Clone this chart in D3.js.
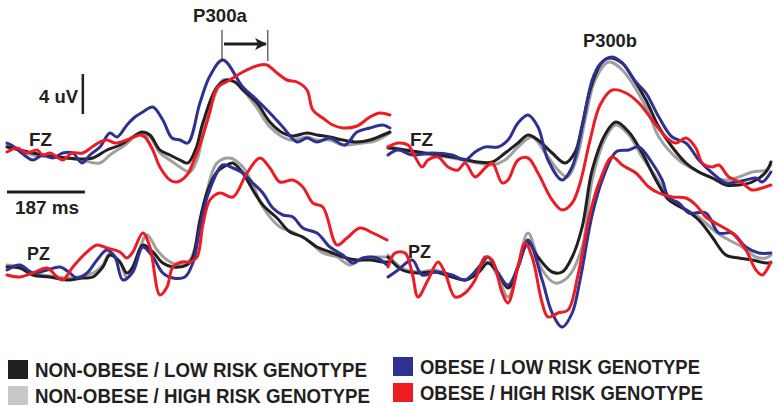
<!DOCTYPE html>
<html><head><meta charset="utf-8">
<script src="https://cdn.jsdelivr.net/npm/d3@7"></script>
<style>body{margin:0;background:#fff}svg{display:block}text{font-family:"Liberation Sans",Arial,sans-serif;font-weight:bold;fill:#231f20}</style>
</head><body>
<script>
// ---- DATA: [time ms, amplitude uV] ----
const groups = ["NON-OBESE / LOW RISK GENOTYPE","NON-OBESE / HIGH RISK GENOTYPE","OBESE / LOW RISK GENOTYPE","OBESE / HIGH RISK GENOTYPE"];
const groupColors = ["#231f20","#a0a0a0","#2e3192","#ed1c24"];
const legendColors = ["#231f20","#c8c8c8","#2e3192","#ed1c24"];
const panelLabels = ["FZ","PZ","FZ","PZ"];
const componentLabels = ["P300a","P300b"];
const scaleBarUv = 4, scaleBarMs = 187;
const p300aLatencies = [516, 626];

// P300a (left) FZ
const aFzBlack = [[0,0.3],[31,0],[62,-0.3],[103,-0.6],[144,-0.8],[175,-0.9],[206,-0.8],[240,0],[271,0.5],[302,1.3],[324,1.8],[343,1.5],[367,0],[391,-0.5],[415,-1.0],[434,-1.3],[454,0.2],[470,2.7],[504,6.3],[528,7.0],[547,6.8],[566,6.0],[600,4.7],[631,2.8],[662,1.7],[686,1.4],[720,1.7],[744,1.5],[775,1.3],[806,1.0],[840,0.8],[871,1.0],[902,1.5],[919,1.8]];
const aFzGray = [[0,0.5],[31,0],[62,-0.5],[103,-0.7],[144,-0.8],[175,-1.0],[223,-1.3],[247,-0.5],[283,0.5],[319,1.7],[343,1.3],[367,-0.3],[391,-1.0],[415,-1.7],[439,-2.2],[456,-1.0],[475,2.5],[504,6.0],[518,7.0],[552,6.7],[571,5.8],[600,4.2],[631,2.3],[679,1.0],[720,1.3],[744,1.0],[775,1.0],[806,0.5],[854,0.7],[883,0.9],[919,1.7]];
const aFzBlue = [[0,0.7],[14,0.4],[38,-0.4],[62,-1.0],[86,-0.5],[110,-0.8],[134,-0.3],[158,-0.3],[180,-1.3],[199,-0.5],[223,0.3],[247,1.7],[264,1.3],[288,2.5],[307,3.3],[326,3.8],[350,4.3],[374,3.0],[396,1.2],[415,1.0],[434,0.7],[463,4.7],[487,7.4],[518,9.0],[566,6.3],[600,5.0],[631,3.7],[662,2.3],[696,0.8],[720,1.2],[744,0.8],[775,1.2],[811,0.5],[840,1.8],[871,2.2],[902,2.5],[919,2.2]];
const aFzRed = [[0,-0.2],[24,0.2],[48,-0.3],[72,0],[86,-0.5],[103,-0.3],[120,-0.7],[134,-1.0],[156,-0.3],[182,-0.3],[204,0.3],[223,0.8],[240,1.0],[259,0.7],[288,1.0],[319,1.5],[331,1.3],[350,0],[367,-1.7],[391,-3.0],[408,-3.2],[432,-2.5],[446,-1.3],[463,0.5],[487,3.8],[504,6.2],[535,7.0],[566,7.8],[607,8.5],[624,8.5],[648,7.7],[672,7.0],[696,6.8],[720,6.0],[734,4.0],[758,3.2],[782,2.5],[806,2.2],[840,2.4],[871,3.3],[895,3.7],[919,3.5]];
// P300a (left) PZ
const aPzBlack = [[0,0.3],[31,0.2],[62,-0.5],[103,-0.7],[144,-1.0],[182,-0.8],[206,-0.7],[230,0.3],[247,1.5],[271,0.8],[288,-0.3],[302,0.3],[326,2.5],[350,1.8],[374,0.7],[398,0.3],[432,0.5],[446,1.3],[463,5.0],[482,8.0],[504,9.8],[528,10.5],[542,10.7],[566,9.7],[590,8.0],[614,6.5],[648,5.2],[679,3.8],[710,3.3],[744,2.3],[775,1.8],[806,1.3],[840,1.0],[871,1.0],[902,0.8],[919,0.8]];
const aPzGray = [[0,0.5],[31,0.3],[62,-0.3],[103,-0.6],[144,-0.8],[182,-0.6],[211,-0.2],[230,0.5],[247,1.7],[271,0.8],[288,-0.8],[307,0.8],[336,3.5],[360,2.0],[384,1.0],[415,0.5],[439,1.0],[456,3.0],[475,7.0],[504,10.7],[535,11.2],[566,10.3],[590,8.5],[614,6.3],[655,4.3],[686,3.8],[727,2.8],[758,1.7],[792,1.3],[823,0.5],[854,1.2],[888,1.3],[919,1.3]];
const aPzBlue = [[0,0],[31,0.5],[62,-0.3],[96,0],[127,0.3],[151,-0.3],[168,-0.8],[192,-0.3],[216,1.0],[240,2.0],[259,1.3],[278,-1.0],[302,-0.2],[326,2.3],[350,1.3],[374,-0.3],[398,-0.8],[427,-0.7],[446,0.7],[463,4.2],[482,7.5],[518,10.5],[542,10.2],[566,9.7],[590,8.7],[614,7.7],[638,6.2],[662,5.5],[686,5.3],[710,4.2],[744,3.7],[775,2.3],[806,1.5],[830,0.7],[854,1.2],[888,1.2],[912,0.5]];
const aPzRed = [[0,-0.5],[31,-0.7],[62,-0.3],[96,0.2],[120,-0.7],[134,-1.0],[158,0.3],[192,1.8],[216,2.5],[240,2.2],[271,1.8],[288,1.2],[302,1.8],[326,3.7],[343,2.3],[367,-2.5],[384,-1.7],[398,0.3],[420,0.8],[439,0.8],[456,1.3],[470,4.5],[487,7.0],[511,7.7],[542,7.3],[576,9.7],[607,11.2],[631,10.2],[655,8.8],[686,9.0],[710,8.3],[734,6.7],[758,6.3],[792,2.5],[816,3.2],[847,4.2],[878,3.7],[912,3.0]];
// P300b (right) FZ
const bFzBlack = [[0,0.2],[41,0],[89,-0.3],[154,-0.7],[216,-1.2],[250,-1.2],[281,-0.3],[312,0.7],[336,1.5],[360,1.0],[394,-0.3],[425,-1.3],[449,-0.2],[466,2.5],[485,6.0],[509,8.5],[530,9.2],[562,8.7],[586,7.3],[619,5.0],[650,2.3],[682,0.3],[715,-1.3],[746,-2.2],[778,-2.8],[811,-3.5],[842,-3.5],[874,-3.2],[907,-2.2],[919,-1.2]];
const bFzGray = [[0,0.4],[72,-0.3],[154,-0.8],[216,-1.3],[250,-1.5],[281,-1.0],[312,0.3],[346,1.3],[377,-0.3],[408,-2.0],[430,-2.7],[454,-0.7],[473,3.0],[497,7.0],[530,8.8],[562,8.0],[619,4.3],[650,1.3],[698,-1.0],[746,-2.2],[778,-2.8],[811,-3.0],[842,-2.7],[874,-2.2],[907,-2.0],[919,-1.5]];
const bFzBlue = [[0,-0.5],[24,0],[58,-0.5],[106,-0.3],[154,-0.5],[185,-1.0],[209,-0.2],[233,0.3],[264,0.3],[288,1.0],[312,2.7],[336,3.5],[360,2.3],[384,-1.0],[418,-3.0],[442,-1.7],[466,2.3],[490,7.0],[509,8.6],[538,9.3],[562,8.7],[595,6.8],[619,5.7],[650,3.3],[682,1.3],[715,0.7],[746,-1.0],[778,-2.3],[811,-3.3],[835,-3.2],[859,-3.0],[883,-2.8],[898,-3.2],[919,-2.2]];
const bFzRed = [[0,0.3],[24,0.7],[48,0.5],[65,-0.7],[82,-1.7],[96,-1.0],[120,-0.7],[144,-1.7],[168,-2.0],[185,-1.3],[209,-2.7],[233,-1.8],[250,-1.3],[274,-3.3],[288,-3.0],[312,-1.0],[336,-0.8],[360,-2.3],[394,-5.0],[418,-6.0],[442,-5.3],[461,-3.3],[485,1.0],[509,4.5],[538,6.0],[571,5.7],[602,4.7],[634,3.0],[667,1.3],[691,0.7],[715,1.2],[739,0.2],[754,-1.3],[778,-1.7],[794,-1.5],[818,-2.7],[850,-3.3],[874,-4.0],[898,-3.8],[919,-3.5]];
// P300b (right) PZ
const bPzBlack = [[0,1.3],[34,0],[72,-0.3],[113,-0.2],[154,-0.7],[185,-1.0],[216,-0.3],[240,0.7],[264,-0.3],[288,-1.8],[312,0.3],[336,2.7],[360,1.3],[394,-0.2],[418,-0.2],[442,1.3],[466,4.3],[490,10.0],[523,13.7],[547,14.8],[578,13.8],[610,11.7],[643,9.0],[674,7.0],[715,6.0],[746,5.0],[778,3.3],[811,1.5],[842,1.2],[874,1.0],[907,0.7],[919,0.7]];
const bPzGray = [[0,1.5],[34,0.2],[72,-0.2],[113,0],[154,-0.6],[185,-1.0],[216,-0.2],[240,0.8],[264,-0.7],[288,-2.7],[312,0.5],[336,3.7],[370,0],[401,-1.3],[432,-0.7],[466,2.3],[490,9.0],[523,13.3],[547,14.5],[578,13.5],[610,11.3],[643,9.3],[674,7.3],[706,6.3],[746,5.3],[787,3.8],[818,3.0],[850,2.3],[883,1.3],[907,1.2],[919,1.5]];
const bPzBlue = [[0,-0.7],[24,0],[58,1.0],[82,-0.5],[113,-0.2],[154,-0.5],[185,-1.0],[226,0.7],[240,1.3],[264,-0.3],[288,-1.5],[312,0.3],[336,3.0],[370,-1.0],[394,-4.3],[418,-5.7],[442,-4.3],[461,-1.0],[490,5.5],[516,9.2],[547,11.8],[578,12.0],[602,12.3],[634,10.7],[658,9.0],[674,7.2],[698,6.7],[722,5.7],[763,5.7],[794,3.7],[826,3.7],[859,2.3],[890,1.7],[919,1.7]];
const bPzRed = [[0,0.3],[17,1.7],[41,1.7],[58,-0.3],[72,-2.7],[96,-1.0],[120,0.8],[137,-0.3],[161,-2.7],[185,-2.3],[209,-1.0],[233,1.3],[250,1.0],[274,-2.3],[288,-3.3],[312,0.3],[329,2.7],[346,1.3],[370,-3.3],[384,-4.7],[408,-4.3],[432,-4.0],[456,-0.5],[485,5.7],[509,9.0],[538,11.3],[562,10.5],[595,9.7],[626,8.3],[650,7.7],[682,7.3],[715,7.2],[739,6.5],[763,5.3],[794,4.5],[826,3.7],[859,2.0],[883,0],[898,-0.5],[919,0.8]];

// ---- SCALES ----
const W = 779, H = 410;
const xLeft = d3.scaleLinear().domain([0, 920]).range([7, 7 + 920 / 2.4]);
const xRight = d3.scaleLinear().domain([0, 920]).range([388, 388 + 920 / 2.4]);
const yFz = d3.scaleLinear().domain([-10, 10]).range([250, 50]);
const yPz = d3.scaleLinear().domain([-10, 10]).range([370, 170]);

const svg = d3.select("body").append("svg").attr("width", W).attr("height", H);

const panels = [
  {x: xLeft, y: yFz, series: [aFzGray, aFzBlack, aFzBlue, aFzRed], label: panelLabels[0], lx: 29, ly: 146},
  {x: xLeft, y: yPz, series: [aPzGray, aPzBlack, aPzBlue, aPzRed], label: panelLabels[1], lx: 27, ly: 260},
  {x: xRight, y: yFz, series: [bFzGray, bFzBlack, bFzBlue, bFzRed], label: panelLabels[2], lx: 410, ly: 146},
  {x: xRight, y: yPz, series: [bPzGray, bPzBlack, bPzBlue, bPzRed], label: panelLabels[3], lx: 408, ly: 258}
];
const drawColors = [groupColors[1], groupColors[0], groupColors[2], groupColors[3]];

panels.forEach(p => {
  const line = d3.line().x(d => p.x(d[0])).y(d => p.y(d[1])).curve(d3.curveCatmullRom.alpha(0.5));
  p.series.forEach((s, i) => {
    svg.append("path").attr("d", line(s)).attr("fill", "none")
      .attr("stroke", drawColors[i]).attr("stroke-width", 3)
      .attr("stroke-linejoin", "round").attr("stroke-linecap", "round");
  });
});
panels.forEach(p => {
  svg.append("text").attr("x", p.lx).attr("y", p.ly).attr("font-size", 18)
    .attr("textLength", 23).attr("lengthAdjust", "spacingAndGlyphs").text(p.label);
});

// scale bars
const barX = xLeft(182);
svg.append("line").attr("x1", barX).attr("x2", barX).attr("y1", yFz(7.6)).attr("y2", yFz(7.6 - scaleBarUv))
  .attr("stroke", "#231f20").attr("stroke-width", 2.5);
svg.append("text").attr("x", 39).attr("y", 103).attr("font-size", 18)
  .attr("textLength", 39).attr("lengthAdjust", "spacingAndGlyphs").text(scaleBarUv + " uV");
const barY = yFz(-4.2);
svg.append("line").attr("x1", xLeft(0)).attr("x2", xLeft(scaleBarMs)).attr("y1", barY).attr("y2", barY)
  .attr("stroke", "#231f20").attr("stroke-width", 3);
svg.append("text").attr("x", 15).attr("y", 214).attr("font-size", 19)
  .attr("textLength", 64).attr("lengthAdjust", "spacingAndGlyphs").text(scaleBarMs + " ms");

// P300a latency markers
p300aLatencies.forEach(t => {
  svg.append("line").attr("x1", xLeft(t)).attr("x2", xLeft(t)).attr("y1", 30).attr("y2", 61)
    .attr("stroke", "#231f20").attr("stroke-width", 1);
});
svg.append("defs").append("marker").attr("id", "ah").attr("viewBox", "0 0 10 10")
  .attr("refX", 9).attr("refY", 5).attr("markerWidth", 4).attr("markerHeight", 4)
  .attr("markerUnits", "strokeWidth").attr("orient", "auto")
  .append("path").attr("d", "M0,0 L10,5 L0,10 L2.5,5 Z").attr("fill", "#231f20");
svg.append("line").attr("x1", xLeft(p300aLatencies[0]) + 2).attr("x2", xLeft(p300aLatencies[1]) - 2)
  .attr("y1", 44).attr("y2", 44).attr("stroke", "#231f20").attr("stroke-width", 3)
  .attr("marker-end", "url(#ah)");
svg.append("text").attr("x", 193).attr("y", 22).attr("font-size", 19)
  .attr("textLength", 54).attr("lengthAdjust", "spacingAndGlyphs").text(componentLabels[0]);
svg.append("text").attr("x", 583).attr("y", 47).attr("font-size", 19)
  .attr("textLength", 54).attr("lengthAdjust", "spacingAndGlyphs").text(componentLabels[1]);

// legend
const legendItems = [
  {g: 0, sx: 8, sy: 360, tx: 35, ty: 377, tl: 332},
  {g: 1, sx: 8, sy: 386, tx: 35, ty: 403, tl: 335},
  {g: 2, sx: 393, sy: 357, tx: 420, ty: 374, tl: 280},
  {g: 3, sx: 393, sy: 383, tx: 420, ty: 400, tl: 283}
];
legendItems.forEach(it => {
  svg.append("rect").attr("x", it.sx).attr("y", it.sy).attr("width", 20).attr("height", 19)
    .attr("fill", legendColors[it.g]);
  svg.append("text").attr("x", it.tx).attr("y", it.ty).attr("font-size", 19.5)
    .attr("textLength", it.tl).attr("lengthAdjust", "spacingAndGlyphs").text(groups[it.g]);
});
</script>
</body></html>
